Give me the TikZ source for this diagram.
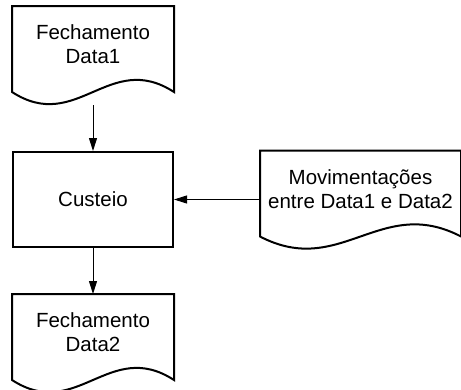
\documentclass[tikz,border=0pt]{standalone}
\usepackage{fontspec}
\setmainfont{Liberation Sans}
\usepackage{tikz}
\usetikzlibrary{arrows.meta,calc}
\newcommand{\wave}{42}
\newcommand{\lip}{9}

\tikzset{
  docbox/.style={rectangle,align=center,inner sep=0pt,outer sep=1pt,minimum height=75pt,font=\fontsize{20.5}{24}\selectfont},
  procbox/.style={rectangle,draw,line width=2pt,minimum width=160pt,minimum height=95pt,font=\fontsize{20.5}{24}\selectfont},
  docline/.style={line width=2pt,line join=miter},
  flow/.style={line width=1pt,-{Triangle[length=13pt,width=8pt]}}
}

\begin{document}
\begin{tikzpicture}[x=1pt,y=-1pt]
                    \useasboundingbox (0,0) rectangle (461,389);
                    \node[docbox,minimum width=160pt] (fech1) at (93,44.5) {Fechamento\\Data1};
                    \node[procbox] (cust) at (93,199.5) {Custeio};
                    \node[docbox,minimum width=199pt] (mov) at (360.5,189) {Movimentações\\entre Data1 e Data2};
                    \node[docbox,minimum width=160pt] (fech2) at (93,332.5) {Fechamento\\Data2};
                    \foreach \d in {fech1,mov,fech2}{
                    \draw[docline] ($(\d.south west)+(0,\lip)$) -- (\d.north west) -- (\d.north east) -- ($(\d.south east)+(0,\lip)$)
                        .. controls ($(\d.south east)!0.4!(\d.south west)+(0,\lip-\wave)$) and ($(\d.south west)!0.4!(\d.south east)+(0,\lip+\wave)$) .. ($(\d.south west)+(0,\lip)$) -- cycle;
                    }
                    \coordinate (fech1 out) at ([yshift=-22pt]fech1.south);
                    \draw[flow] (fech1 out) -- (cust.north);
                    \draw[flow] (cust.south) -- (fech2.north);
                    \draw[flow] (mov.west |- cust.east) -- (cust.east);
                    \end{tikzpicture}
\end{document}
